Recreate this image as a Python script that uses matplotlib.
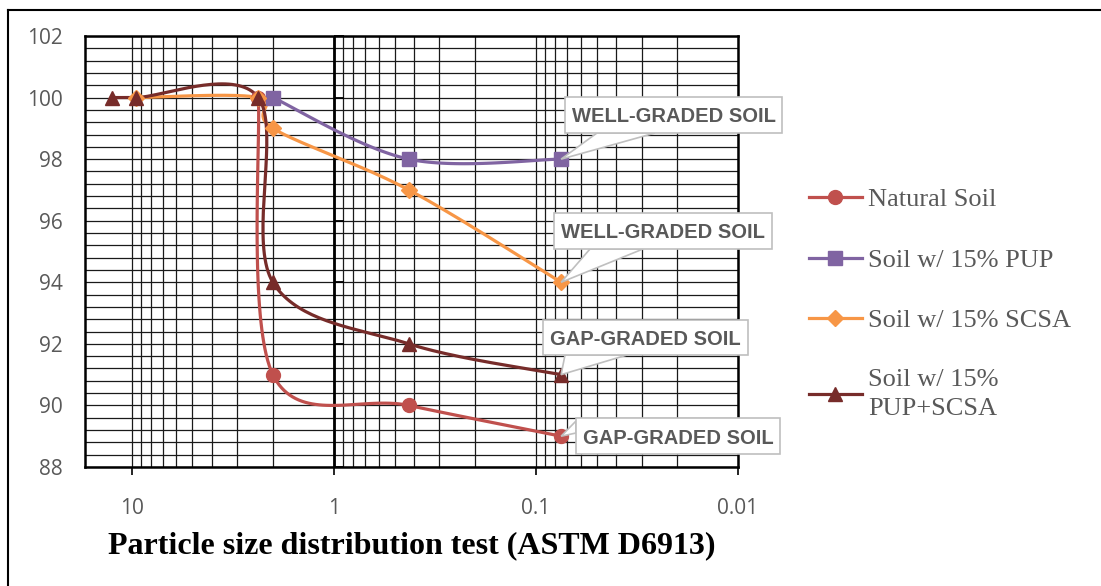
import numpy as np
import matplotlib
matplotlib.use("Agg")
import matplotlib.pyplot as plt
from matplotlib.lines import Line2D
from matplotlib.patches import Polygon, Rectangle
from matplotlib.transforms import IdentityTransform
from matplotlib.ticker import FixedLocator, MultipleLocator, NullFormatter

# sieve opening (mm) vs percent passing
nat_size = [2.36, 2.0, 0.425, 0.075]
nat_pass = [100, 91, 90, 89]
pup_size = [2.0, 0.425, 0.075]
pup_pass = [100, 98, 98]
scsa_size = [9.5, 2.36, 2.0, 0.425, 0.075]
scsa_pass = [100, 100, 99, 97, 94]
mix_size = [12.5, 9.5, 2.36, 2.0, 0.425, 0.075]
mix_pass = [100, 100, 100, 94, 92, 91]

series_names = ["Natural Soil", "Soil w/ 15% PUP", "Soil w/ 15% SCSA",
                "Soil w/ 15%\nPUP+SCSA"]
series_colors = ["#C0504D", "#8064A2", "#F79646", "#772C2A"]
series_markers = ["o", "s", "D", "^"]

x_ticks = [10, 1, 0.1, 0.01]
x_ticklabels = ["10", "1", "0.1", "0.01"]

W, H = 1101, 586
fig = plt.figure(figsize=(W / 100, H / 100), dpi=100)
ax = fig.add_axes([85 / W, 1 - 467 / H, (738 - 85) / W, (467 - 36) / H])
ax.set_xscale("log")
ax.set_xlim(17.0, 0.01)
ax.set_ylim(88, 102)

# grid: log decades with 2..9 subdivisions, 0.4 % steps vertically
minor_x = [m * 10.0 ** e for e in range(-2, 2) for m in range(2, 10)]
ax.xaxis.set_major_locator(FixedLocator(x_ticks))
ax.xaxis.set_minor_locator(FixedLocator(minor_x))
ax.xaxis.set_minor_formatter(NullFormatter())
ax.set_xticklabels(x_ticklabels)
ax.yaxis.set_major_locator(MultipleLocator(2))
ax.yaxis.set_minor_locator(MultipleLocator(0.4))
ax.grid(which="both", axis="both", color="#1a1a1a", lw=0.9)
ax.set_axisbelow(True)
for sp in ax.spines.values():
    sp.set_linewidth(1.8)
    sp.set_color("black")

ax.tick_params(axis="x", which="major", direction="out", length=6, width=1.2,
               pad=16)
ax.tick_params(axis="x", which="minor", length=0)
ax.tick_params(axis="y", which="both", length=0, pad=16)
ax.tick_params(which="major", labelsize=15, labelcolor="#595959",
               labelfontfamily="Open Sans")

# value axis crosses at 1 mm
ax.axvline(1, color="black", lw=2, zorder=1.5)
ax.plot([1] * 8, np.arange(88, 103, 2), ls="none", marker=1, ms=7, mew=1.3,
        color="black", clip_on=False, zorder=1.5)


def smooth(xs, ys, n=40):
    # Catmull-Rom style bezier through the points, built in screen space
    pts = ax.transData.transform(np.column_stack([xs, ys]))
    pts = np.vstack([pts[0], pts, pts[-1]])
    out = []
    for i in range(1, len(pts) - 2):
        p0, p1, p2, p3 = pts[i - 1], pts[i], pts[i + 1], pts[i + 2]
        c1 = p1 + (p2 - p0) / 6
        c2 = p2 - (p3 - p1) / 6
        t = np.linspace(0, 1, n)[:, None]
        seg = ((1 - t) ** 3 * p1 + 3 * (1 - t) ** 2 * t * c1
               + 3 * (1 - t) * t ** 2 * c2 + t ** 3 * p2)
        out.append(seg)
    curve = ax.transData.inverted().transform(np.vstack(out))
    return curve[:, 0], curve[:, 1]


data = [(nat_size, nat_pass), (pup_size, pup_pass),
        (scsa_size, scsa_pass), (mix_size, mix_pass)]
handles = []
for (xs, ys), name, c, m in zip(data, series_names, series_colors, series_markers):
    sx, sy = smooth(xs, ys)
    ax.plot(sx, sy, color=c, lw=2.3, solid_capstyle="round", zorder=3)
    ms = 8.5 if m == "D" else 10
    ax.plot(xs, ys, ls="none", marker=m, ms=ms, color=c, mec=c, zorder=4)
    handles.append(Line2D([], [], color=c, lw=2.3, marker=m, ms=ms, mec=c))

leg = fig.legend(handles, series_names, loc="center left",
                 bbox_to_anchor=(809 / W, 1 - 304 / H), frameon=False,
                 prop=dict(family="Liberation Serif", size=19),
                 labelcolor="#595959", handlelength=2.0, handletextpad=0.24,
                 labelspacing=1.4, borderpad=0, borderaxespad=0)
for t in leg.get_texts():
    t.set_linespacing(1.4)

# callouts on the finest sieve of each curve:
# box (left, top, right, bottom) in px, wedge base as two px points
callouts = [
    ("WELL-GRADED SOIL", pup_size[-1], pup_pass[-1], (565, 97, 782, 133),
     ((597, 133), (655, 133))),
    ("WELL-GRADED SOIL", scsa_size[-1], scsa_pass[-1], (554, 213, 772, 249),
     ((590, 249), (643, 249))),
    ("GAP-GRADED SOIL", mix_size[-1], mix_pass[-1], (543, 320, 748, 355),
     ((565, 355), (627, 355))),
    ("GAP-GRADED SOIL", nat_size[-1], nat_pass[-1], (576, 418, 780, 454),
     ((576, 421), (576, 433))),
]
px = IdentityTransform()
for txt, x, y, (l, t, r, b), base in callouts:
    tip = ax.transData.transform((x, y))
    wedge = [(bx, H - by) for bx, by in base] + [tuple(tip)]
    fig.add_artist(Polygon(wedge, closed=True, transform=px, fc="white",
                           ec="#bfbfbf", lw=1.2, zorder=6))
    fig.add_artist(Rectangle((l, H - b), r - l, b - t, transform=px,
                             fc="white", ec="#bfbfbf", lw=1.2, zorder=7))
    fig.text((l + r) / 2 / W, 1 - (t + b) / 2 / H, txt, ha="center",
             va="center_baseline", fontfamily="Liberation Sans",
             fontweight="bold", fontsize=14.5, color="#595959", zorder=8)

ax.set_xlabel("Particle size distribution test (ASTM D6913)",
              fontfamily="Liberation Serif", fontweight="bold", fontsize=23,
              color="black", labelpad=9)

# chart area frame (top and left edges)
fig.add_artist(Line2D([8 / W, 8 / W], [0, 1 - 10 / H], transform=fig.transFigure,
                      color="black", lw=1.5))
fig.add_artist(Line2D([8 / W, 1], [1 - 10 / H, 1 - 10 / H],
                      transform=fig.transFigure, color="black", lw=1.5))

fig.savefig("out.png", dpi=100)
